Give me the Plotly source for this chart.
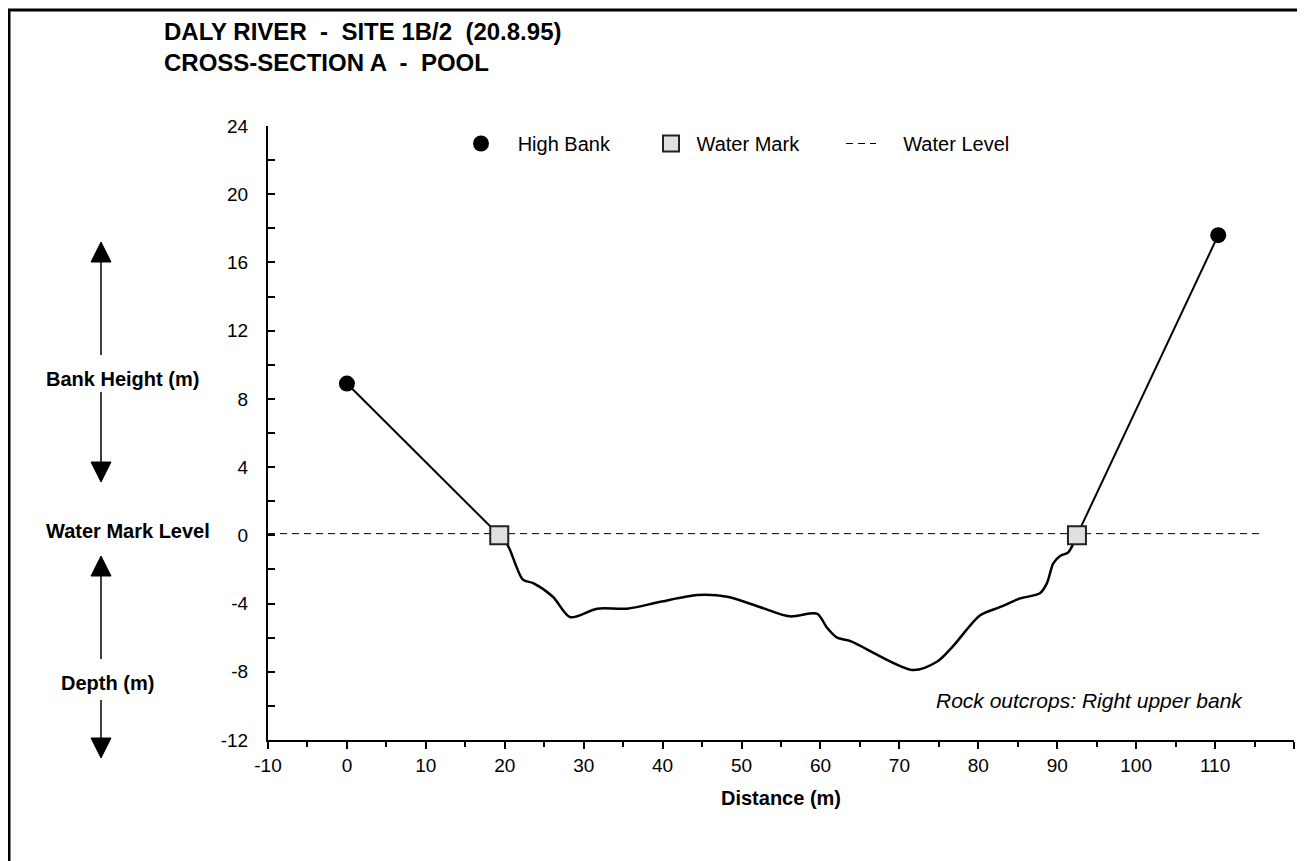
import plotly.graph_objects as go

# ---------------- data ----------------
high_bank_x = [0.0, 110.4]
high_bank_y = [8.9, 17.6]

water_mark_x = [19.3, 92.5]
water_mark_y = [0.0, 0.0]

water_level_x = [-10.0, 116.0]
water_level_y = [0.1, 0.1]

bed_x = [19.3, 20.4, 22.3, 23.6, 26.1, 28.3, 31.7, 35.5, 39.7, 44.4, 48.2, 52.3,
         56.1, 59.6, 60.8, 62.1, 63.8, 71.7, 74.8, 76.8, 80.2, 82.8, 85.3, 87.8,
         88.7, 89.5, 90.4, 91.4, 92.5]
bed_y = [0.0, -0.6, -2.6, -2.8, -3.6, -4.8, -4.3, -4.3, -3.9, -3.5, -3.6, -4.2,
         -4.75, -4.6, -5.4, -6.0, -6.2, -7.9, -7.4, -6.5, -4.7, -4.2, -3.7, -3.4,
         -2.8, -1.65, -1.2, -1.0, 0.0]

x_ticks = list(range(-10, 121, 10))
y_ticks = list(range(-12, 25, 4))

FONT = "Arial, Liberation Sans, sans-serif"
NB = "\u00a0"

# ---------------- layout geometry ----------------
# page is shown with an 8px body margin; screen coords = figure coords + 8
OFF = 8
W, H = 1305 - OFF, 861 - OFF
PLOT_L, PLOT_R, PLOT_T, PLOT_B = 268, 1294, 126, 740   # screen pixels
L = PLOT_L - OFF
R = W - (PLOT_R - OFF)
T = PLOT_T - OFF
B = H - (PLOT_B - OFF)
PW, PH = PLOT_R - PLOT_L, PLOT_B - PLOT_T


def px(xs):
    return (xs - PLOT_L) / PW


def py(ys):
    return (PLOT_B - ys) / PH


fig = go.Figure()

# water level (drawn first so the markers sit on top)
fig.add_trace(go.Scatter(x=water_level_x, y=water_level_y, mode="lines", name=NB * 4 + "Water Level",
                         line=dict(color="black", width=1, dash="7px,5px"), legendrank=3))
# left bank line
fig.add_trace(go.Scatter(x=[high_bank_x[0], water_mark_x[0]], y=[high_bank_y[0], water_mark_y[0]],
                         mode="lines", line=dict(color="black", width=2), showlegend=False,
                         hoverinfo="skip"))
# right bank line
fig.add_trace(go.Scatter(x=[water_mark_x[1], high_bank_x[1]], y=[water_mark_y[1], high_bank_y[1]],
                         mode="lines", line=dict(color="black", width=2), showlegend=False,
                         hoverinfo="skip"))
# channel bed
fig.add_trace(go.Scatter(x=bed_x, y=bed_y, mode="lines",
                         line=dict(color="black", width=2.5, shape="spline", smoothing=0.8),
                         showlegend=False, hoverinfo="skip"))

fig.add_trace(go.Scatter(x=high_bank_x, y=high_bank_y, mode="markers", name=NB * 3 + "High Bank",
                         marker=dict(symbol="circle", size=16, color="black"), legendrank=1))
fig.add_trace(go.Scatter(x=water_mark_x, y=water_mark_y, mode="markers", name=NB + "Water Mark",
                         marker=dict(symbol="square", size=18, color="#e0e0e0",
                                     line=dict(color="#222222", width=2)), legendrank=2))

# ---------------- annotations ----------------
ann = []
ann.append(dict(x=px(162), y=py(32), xref="paper", yref="paper", xanchor="left", yanchor="middle",
                text="<b>DALY RIVER  -  SITE 1B/2  (20.8.95)</b>", showarrow=False,
                font=dict(family=FONT, size=24, color="black")))
ann.append(dict(x=px(162), y=py(63), xref="paper", yref="paper", xanchor="left", yanchor="middle",
                text="<b>CROSS-SECTION A  -  POOL</b>", showarrow=False,
                font=dict(family=FONT, size=24, color="black")))
ann.append(dict(x=px(122), y=py(379), xref="paper", yref="paper", xanchor="center", yanchor="middle",
                text="<b>Bank Height (m)</b>", showarrow=False,
                font=dict(family=FONT, size=20, color="black")))
ann.append(dict(x=px(128), y=py(531), xref="paper", yref="paper", xanchor="center", yanchor="middle",
                text="<b>Water Mark Level</b>", showarrow=False,
                font=dict(family=FONT, size=20, color="black")))
ann.append(dict(x=px(107), y=py(683), xref="paper", yref="paper", xanchor="center", yanchor="middle",
                text="<b>Depth (m)</b>", showarrow=False,
                font=dict(family=FONT, size=20, color="black")))
ann.append(dict(x=px(1245), y=py(700), xref="paper", yref="paper", xanchor="right", yanchor="middle",
                text="<i>Rock outcrops: Right upper bank</i>", showarrow=False,
                font=dict(family=FONT, size=21, color="black")))

# ---------------- shapes: arrows and frame ----------------
shapes = []
AX = 101


def arrow(tail, tip):
    head = 20
    hw = 10
    d = 1 if tip > tail else -1
    base = tip - d * head
    shapes.append(dict(type="line", xref="paper", yref="paper",
                       x0=px(AX), x1=px(AX), y0=py(tail), y1=py(base),
                       line=dict(color="black", width=1.5)))
    path = "M {} {} L {} {} L {} {} Z".format(px(AX), py(tip), px(AX - hw), py(base), px(AX + hw), py(base))
    shapes.append(dict(type="path", xref="paper", yref="paper", path=path,
                       fillcolor="black", line=dict(color="black", width=1)))


arrow(355, 242)
arrow(392, 482)
arrow(659, 556)
arrow(700, 758)

shapes.append(dict(type="rect", xref="paper", yref="paper",
                   x0=px(9), x1=px(1330), y0=py(10), y1=py(900),
                   line=dict(color="black", width=3), fillcolor="rgba(0,0,0,0)", layer="below"))

fig.update_layout(
    width=W, height=H,
    margin=dict(l=L, r=R, t=T, b=B, pad=0),
    paper_bgcolor="white", plot_bgcolor="white",
    font=dict(family=FONT, size=19, color="black"),
    annotations=ann, shapes=shapes,
    legend=dict(orientation="h", x=px(461), y=py(124), xanchor="left", yanchor="top",
                bgcolor="rgba(0,0,0,0)", font=dict(family=FONT, size=20, color="black"),
                entrywidth=145, entrywidthmode="pixels", traceorder="normal"),
    xaxis=dict(range=[-10, 120], tickmode="array", tickvals=x_ticks, ticktext=[str(v) for v in x_ticks],
               showgrid=False, zeroline=False, showline=True, linecolor="black", linewidth=2,
               ticks="outside", ticklen=7, tickwidth=2, tickcolor="black",
               minor=dict(dtick=5, tick0=-10, ticks="outside", ticklen=5, tickwidth=2, tickcolor="black"),
               tickfont=dict(family=FONT, size=19, color="black"),
               title=dict(text="<b>Distance (m)</b>", font=dict(family=FONT, size=20, color="black"), standoff=16)),
    yaxis=dict(range=[-12, 24], tickmode="array", tickvals=y_ticks, ticktext=[str(v) for v in y_ticks],
               showgrid=False, zeroline=False, showline=True, linecolor="black", linewidth=2,
               ticks="inside", ticklen=7, tickwidth=2, tickcolor="black",
               minor=dict(dtick=2, tick0=0, ticks="inside", ticklen=7, tickwidth=2, tickcolor="black"),
               tickfont=dict(family=FONT, size=19, color="black"), ticklabelstandoff=14),
)

fig.write_html("out.html")
